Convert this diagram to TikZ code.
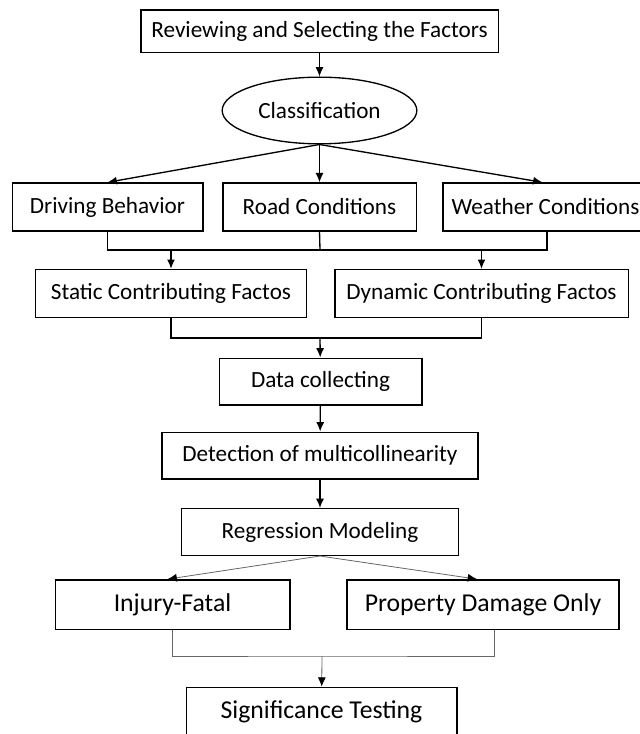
\documentclass[tikz,border=0pt]{standalone}
\usepackage{fontspec}
\setmainfont{Carlito}
\usetikzlibrary{shapes,arrows.meta,calc}

\begin{document}
\begin{tikzpicture}
[x=0.75pt,y=-0.75pt,
box/.style={draw,line width=1pt,inner sep=0pt,minimum height=36pt,font=\fontsize{17.4}{20}\selectfont},
oval/.style={ellipse,draw,line width=1pt,inner sep=0pt,minimum width=146pt,minimum height=50pt,font=\fontsize{17.4}{20}\selectfont},
outbox/.style={draw,line width=1pt,inner sep=0pt,minimum height=37pt,font=\fontsize{19.3}{22}\selectfont},
arr/.style={-{Latex[length=7pt,width=6pt,color=black]},line width=1pt},
thin/.style={draw=black!60,line width=0.6pt}]
\useasboundingbox (0,0) rectangle (639,734);
\node (review) at (319.5,31.5) [box,minimum width=268pt,minimum height=32pt] {Reviewing and Selecting the Factors};
\node (class) at (319.5,110.5) [oval] {Classification};
\node (driving) at (107.5,207) [box,minimum width=143pt] {Driving Behavior};
\node (road) at (319.5,207) [box,minimum width=145pt] {Road Conditions};
\node (weather) at (545.5,207) [box,minimum width=154pt] {Weather Conditions};
\node (static) at (171,293.5) [box,minimum width=203pt] {Static Contributing Factos};
\node (dynamic) at (481.5,293.5) [box,minimum width=220pt] {Dynamic Contributing Factos};
\node (data) at (320.5,381.5) [box,minimum width=152pt,minimum height=35pt] {Data collecting};
\node (detect) at (320,455.5) [box,minimum width=237pt,minimum height=35pt] {Detection of multicollinearity};
\node (regress) at (320,532) [box,minimum width=208pt,minimum height=35pt] {Regression Modeling};
\node (injury) at (172.5,604.5) [outbox,minimum width=176pt] {Injury-Fatal};
\node (property) at (483,604.5) [outbox,minimum width=204pt] {Property Damage Only};
\node (signif) at (321.5,712) [outbox,minimum width=203pt] {Significance Testing};
\coordinate (j1) at (320,250);
\coordinate (j2) at (320,338);
\coordinate (j3) at (322,656);
% top part
\draw [arr] (review) -- (class);
\draw [arr] (class.south) -- (driving.north);
\draw [arr] (class.south) -- (road.north);
\draw [arr] (class.south) -- ($(weather.north)+(-3,0)$);
\draw [line width=1pt] (driving.south) |- (j1) -| ($(weather.south)+(1.5,0)$);
\draw [line width=1pt] (road.south) -- (j1);
\draw [arr] (j1 -| static) -- (static);
\draw [arr] (j1 -| dynamic) -- (dynamic);
\draw [line width=1pt] (static.south) |- (j2) -| (dynamic.south);
\draw [arr] (j2) -- (data);
\draw [arr] (data) -- (detect);
\draw [arr] (detect) -- (regress);
% bottom part
\draw [arr,thin] (regress.south) -- ($(injury.north)+(-5,0)$);
\draw [arr,thin] (regress.south) -- ($(property.north)+(-6,0)$);
\draw [thin] (injury.south) |- (j3) -| ($(property.south)+(11,0)$);
\draw [arr,thin] (j3) -- (signif);
\end{tikzpicture}
\end{document}
